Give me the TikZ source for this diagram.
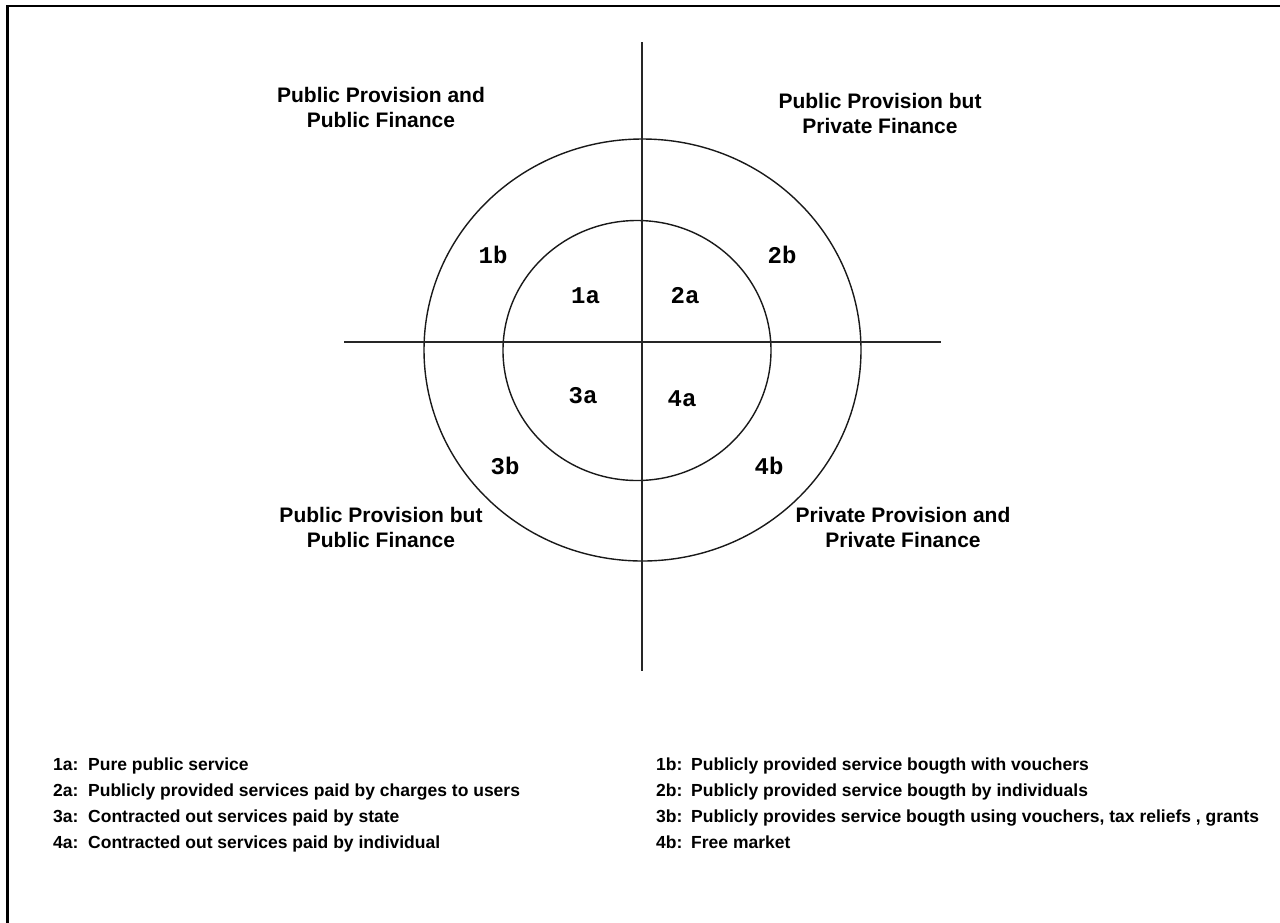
\documentclass[tikz,border=0pt]{standalone}
\usepackage{fontspec}
\setmainfont{Liberation Sans}
\newfontfamily\monof{Liberation Mono}
\begin{document}
\begin{tikzpicture}[x=1pt,y=-1pt,
  titletext/.style={font=\bfseries\fontsize{21}{25}\selectfont, align=center, inner sep=0pt},
  qlabel/.style={font=\monof\bfseries\fontsize{24}{28}\selectfont, inner sep=0pt, anchor=base},
  legendtext/.style={font=\bfseries\fontsize{17.5}{20}\selectfont, inner sep=0pt, anchor=base west},
  axisline/.style={line width=1.5pt, black!85},
  ringline/.style={line width=1.4pt, black!90},
  framebox/.style={line width=2.5pt, black}]
\useasboundingbox (0,0) rectangle (1280,922);
\clip (0,0) rectangle (1280,922);
\fill[white] (0,0) rectangle (1280,922);
\draw[framebox] (7.5,6) rectangle (1286,928);

% rings
\draw[ringline] (642.5,350) ellipse [x radius=218.5, y radius=211];
\draw[ringline] (637,350.5) ellipse [x radius=134, y radius=130];

% axes
\coordinate (vtop) at (642,42);
\coordinate (vbot) at (642,671);
\coordinate (hleft) at (344,342);
\coordinate (hright) at (941,342);
\draw[axisline] (vtop) -- (vbot);
\draw[axisline] (hleft) -- (hright);

% quadrant titles
\node[titletext] (tl) at (381,107.9) {Public Provision and\\Public Finance};
\node[titletext] (tr) at (880,113.9) {Public Provision but\\Private Finance};
\node[titletext] (bl) at (381,527.4) {Public Provision but\\Public Finance};
\node[titletext] (br) at (903,527.9) {Private Provision and\\Private Finance};

% region labels
\node[qlabel] (q1b) at (493,263) {1b};
\node[qlabel] (q2b) at (782,263) {2b};
\node[qlabel] (q1a) at (585.5,303) {1a};
\node[qlabel] (q2a) at (685,303) {2a};
\node[qlabel] (q3a) at (583,403) {3a};
\node[qlabel] (q4a) at (682,406) {4a};
\node[qlabel] (q3b) at (505,474) {3b};
\node[qlabel] (q4b) at (769,474) {4b};

% legend
\node[legendtext] (l1a) at (53,770) {\makebox[35pt][l]{1a:}Pure public service};
\node[legendtext] (l2a) at (53,796) {\makebox[35pt][l]{2a:}Publicly provided services paid by charges to users};
\node[legendtext] (l3a) at (53,822) {\makebox[35pt][l]{3a:}Contracted out services paid by state};
\node[legendtext] (l4a) at (53,848) {\makebox[35pt][l]{4a:}Contracted out services paid by individual};
\node[legendtext] (l1b) at (656,770) {\makebox[35pt][l]{1b:}Publicly provided service bougth with vouchers};
\node[legendtext] (l2b) at (656,796) {\makebox[35pt][l]{2b:}Publicly provided service bougth by individuals};
\node[legendtext] (l3b) at (656,822) {\makebox[35pt][l]{3b:}Publicly provides service bougth using vouchers, tax reliefs , grants};
\node[legendtext] (l4b) at (656,848) {\makebox[35pt][l]{4b:}Free market};
\end{tikzpicture}
\end{document}
